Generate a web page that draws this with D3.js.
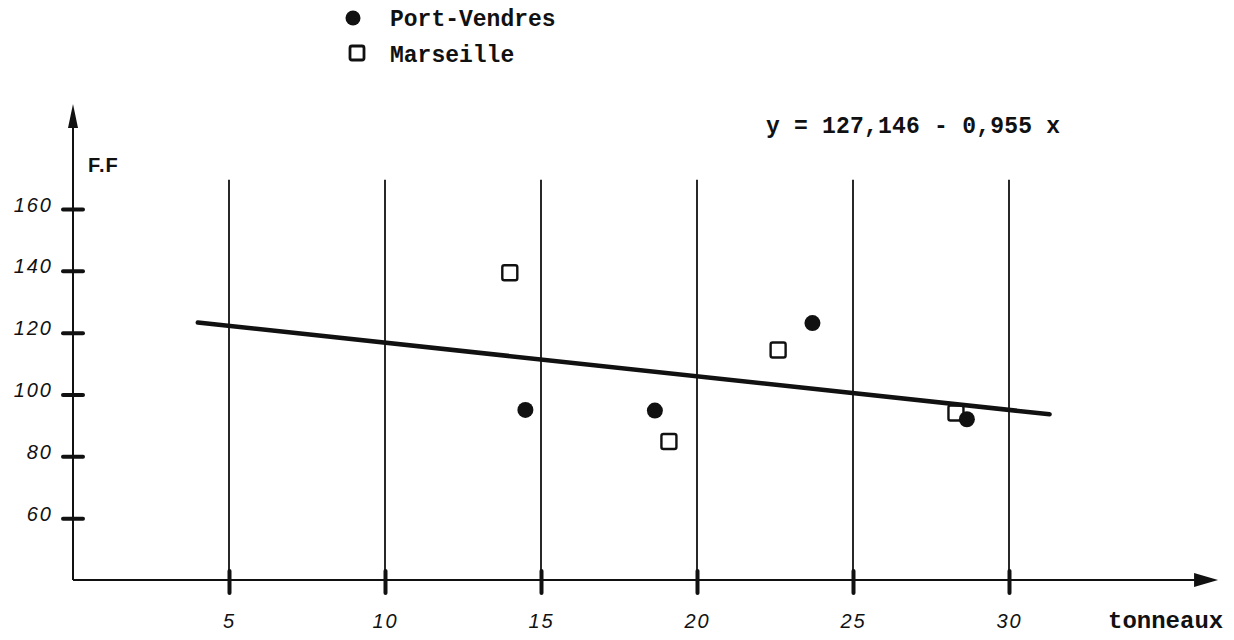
<!DOCTYPE html>
<html>
<head>
<meta charset="utf-8">
<script src="https://cdn.jsdelivr.net/npm/d3@7"></script>
<style>
body { margin: 0; background: #fff; }
.mono { font-family: "Liberation Mono", "DejaVu Sans Mono", monospace; font-weight: bold; }
.hand { font-family: "Liberation Sans", "DejaVu Sans", sans-serif; font-style: italic; letter-spacing: 2px; }
</style>
</head>
<body>
<script>
var width = 1234,
    height = 640;

// values
var xTicks = [5, 10, 15, 20, 25, 30];
var yTicks = [60, 80, 100, 120, 140, 160];
var portVendresX = [14.5, 18.65, 23.7, 28.65];
var portVendresY = [95.0, 94.8, 123.1, 92.0];
var marseilleX = [14.0, 19.1, 22.6, 28.3];
var marseilleY = [139.4, 84.8, 114.4, 94.0];
var fitX = [4.0, 31.3];
var fitY = [123.3, 93.6];
var legendNames = ["Port-Vendres", "Marseille"];
var equation = "y = 127,146 - 0,955 x";

var ink = "#111";

var x = d3.scaleLinear()
    .domain([0, 30])
    .range([73, 1009]);

var y = d3.scaleLinear()
    .domain([40, 160])
    .range([580, 209]);

var svg = d3.select("body").append("svg")
    .attr("width", width)
    .attr("height", height);

// vertical grid lines
svg.append("g").selectAll("line")
    .data(xTicks)
    .enter().append("line")
    .attr("x1", function(d) { return x(d); })
    .attr("x2", function(d) { return x(d); })
    .attr("y1", y(169.5))
    .attr("y2", y(40))
    .attr("stroke", ink)
    .attr("stroke-width", 1.8);

// x axis
var xAxis = svg.append("g")
    .attr("transform", "translate(0," + y(40) + ")")
    .call(d3.axisBottom(x).tickValues(xTicks).tickSize(0).tickPadding(0));
xAxis.select(".domain").remove();
xAxis.selectAll(".tick line")
    .attr("y1", -9)
    .attr("y2", 13)
    .attr("stroke", ink)
    .attr("stroke-width", 4)
    .attr("stroke-linecap", "round");
xAxis.selectAll(".tick text")
    .attr("class", "hand")
    .attr("y", 48)
    .attr("dy", 0)
    .attr("font-size", 20)
    .attr("fill", ink);

svg.append("line")
    .attr("x1", x(0))
    .attr("x2", x(36.2))
    .attr("y1", y(40))
    .attr("y2", y(40))
    .attr("stroke", ink)
    .attr("stroke-width", 2);
svg.append("path")
    .attr("d", d3.line()([[x(36.7), y(40)], [x(36.7) - 24, y(40) - 7], [x(36.7) - 24, y(40) + 7]]) + "Z")
    .attr("fill", ink);

// y axis
var yAxis = svg.append("g")
    .attr("transform", "translate(" + x(0) + ",0)")
    .call(d3.axisLeft(y).tickValues(yTicks).tickSize(0).tickPadding(0));
yAxis.select(".domain").remove();
yAxis.selectAll(".tick line")
    .attr("x1", -10)
    .attr("x2", 10)
    .attr("stroke", ink)
    .attr("stroke-width", 4)
    .attr("stroke-linecap", "round");
yAxis.selectAll(".tick text")
    .attr("class", "hand")
    .attr("x", -20)
    .attr("dy", "0.1em")
    .attr("font-size", 20)
    .attr("fill", ink);

svg.append("line")
    .attr("x1", x(0))
    .attr("x2", x(0))
    .attr("y1", y(40))
    .attr("y2", y(188))
    .attr("stroke", ink)
    .attr("stroke-width", 2);
svg.append("path")
    .attr("d", d3.line()([[x(0), y(194)], [x(0) - 5, y(194) + 24], [x(0) + 5, y(194) + 24]]) + "Z")
    .attr("fill", ink);

svg.append("text")
    .attr("x", x(0) + 15)
    .attr("y", 172)
    .attr("font-family", "Liberation Sans, sans-serif")
    .attr("font-weight", "bold")
    .attr("font-size", 20)
    .attr("letter-spacing", 1)
    .attr("fill", ink)
    .text("F.F");

svg.append("text")
    .attr("class", "mono")
    .attr("x", 1108)
    .attr("y", 628)
    .attr("font-size", 24)
    .attr("fill", ink)
    .text("tonneaux");

// regression line
svg.append("path")
    .datum(d3.zip(fitX, fitY))
    .attr("d", d3.line()
        .x(function(d) { return x(d[0]); })
        .y(function(d) { return y(d[1]); }))
    .attr("fill", "none")
    .attr("stroke", ink)
    .attr("stroke-width", 4.5)
    .attr("stroke-linecap", "round");

svg.append("text")
    .attr("class", "mono")
    .attr("x", 766)
    .attr("y", 133)
    .attr("font-size", 23)
    .attr("textLength", 294)
    .attr("fill", ink)
    .text(equation);

// Marseille squares
svg.append("g").selectAll("rect")
    .data(d3.zip(marseilleX, marseilleY))
    .enter().append("rect")
    .attr("x", function(d) { return x(d[0]) - 7.5; })
    .attr("y", function(d) { return y(d[1]) - 7.5; })
    .attr("width", 15)
    .attr("height", 15)
    .attr("rx", 2)
    .attr("fill", "none")
    .attr("stroke", ink)
    .attr("stroke-width", 2.4);

// Port-Vendres dots
svg.append("g").selectAll("circle")
    .data(d3.zip(portVendresX, portVendresY))
    .enter().append("circle")
    .attr("cx", function(d) { return x(d[0]); })
    .attr("cy", function(d) { return y(d[1]); })
    .attr("r", 8)
    .attr("fill", ink);

// legend
var legend = svg.append("g");
legend.append("circle")
    .attr("cx", 353)
    .attr("cy", 18)
    .attr("r", 7.5)
    .attr("fill", ink);
legend.append("rect")
    .attr("x", 350)
    .attr("y", 46)
    .attr("width", 14)
    .attr("height", 14)
    .attr("rx", 2)
    .attr("fill", "none")
    .attr("stroke", ink)
    .attr("stroke-width", 2.8);
legend.selectAll("text")
    .data(legendNames)
    .enter().append("text")
    .attr("class", "mono")
    .attr("x", 390)
    .attr("y", function(d, i) { return 26 + i * 36; })
    .attr("font-size", 23)
    .attr("fill", ink)
    .text(function(d) { return d; });
</script>
</body>
</html>
